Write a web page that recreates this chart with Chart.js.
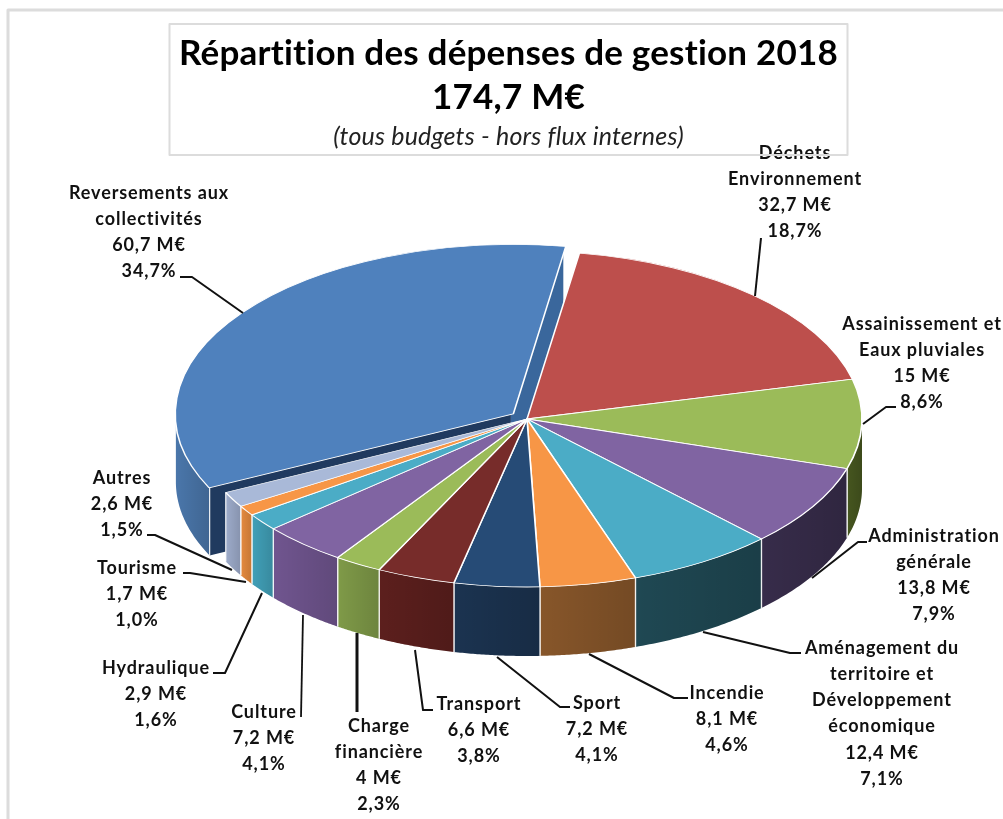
<!DOCTYPE html>
<html lang="fr"><head><meta charset="utf-8">
<style>html,body{margin:0;padding:0;background:#fff}canvas{display:block}</style>
<script src="https://cdn.jsdelivr.net/npm/chart.js@4/dist/chart.umd.min.js"></script>
</head><body><canvas id="c" width="1003" height="819"></canvas>
<script>
const titleLines = ['Répartition des dépenses de gestion 2018', '174,7 M€'];
const subtitleText = '(tous budgets - hors flux internes)';
const categories = ['Déchets Environnement','Assainissement et Eaux pluviales','Administration générale','Aménagement du territoire et Développement économique','Incendie','Sport','Transport','Charge financière','Culture','Hydraulique','Tourisme','Autres','Reversements aux collectivités'];
const categoryLines = [['Déchets','Environnement'],['Assainissement et','Eaux pluviales'],['Administration','générale'],['Aménagement du','territoire et','Développement','économique'],['Incendie'],['Sport'],['Transport'],['Charge','financière'],['Culture'],['Hydraulique'],['Tourisme'],['Autres'],['Reversements aux','collectivités']];
const valuesMEuro = [32.7,15,13.8,12.4,8.1,7.2,6.6,4,7.2,2.9,1.7,2.6,60.7];
const percentLabels = ['18,7%','8,6%','7,9%','7,1%','4,6%','4,1%','3,8%','2,3%','4,1%','1,6%','1,0%','1,5%','34,7%'];
const topColors = ['#bd4f4c','#9bbb59','#8064a2','#4bacc6','#f79646','#264b76','#772c2a','#9bbb59','#8064a2','#4bacc6','#f79646','#a9b9d8','#4f81bd'];
const wallColors = ['#7a3230','#46561f','#372c4a','#1f4853','#87562a','#1b3350','#5c1f1d','#7f9a48','#70558f','#41a0b8','#e58a3e','#9dabca','#4a76aa'];
const offsets = [0,0,0,0,0,0,0,0,0,0,0,0,68];

// Layout of annotations (screen pixels)
const labelPos = [[795,153],[922,324],[934,536],[882,648],[727,693],[597,703],[479,704],[379,726],[264,712],[156,668],[137,568],[122,478],[149,193]];
const leaders = [
 [[755,296],[761,238]],
 [[863,424],[886,407],[896,407]],
 [[812,578],[858,542],[867,542]],
 [[703,632],[790,653],[801,653]],
 [[589,654],[674,698],[688,698]],
 [[497,657],[560,707],[570,707]],
 [[415,650],[423,710],[433,710]],
 [[357,633],[357,712]],
 [[303,615],[301,717]],
 [[262,593],[225,673],[213,673]],
 [[246,582],[190,573],[183,573]],
 [[232,570],[155,535],[147,535]],
 [[180,277],[192,277],[243,313]]
];
const leaderWidths = [2,2,2,2,2,2,2,3,1.8,2,2,2,2];
const CX=527, CY=419, RX=335, K=168/335, DEPTH=69, LINE=26.2;

const pie3d = {
  id:'pie3d',
  beforeDraw(chart){ chart.ctx.letterSpacing='0.2px'; },
  beforeDatasetsDraw(chart){
    const ctx=chart.ctx, arcs=chart.getDatasetMeta(0).data;
    const offOf=(el,i)=>{const o=offsets[i]/4, c=el.endAngle-el.startAngle, f=1-Math.sin(Math.min(Math.PI,c)), m=o+o*f, h=(el.startAngle+el.endAngle)/2;return [Math.cos(h)*m,Math.sin(h)*m*K];};
    const quad=(pts,col)=>{ctx.beginPath();pts.forEach((p,j)=>j?ctx.lineTo(p[0],p[1]):ctx.moveTo(p[0],p[1]));ctx.closePath();ctx.fillStyle=col;ctx.fill();};
    const vline=(p)=>{ctx.beginPath();ctx.moveTo(p[0],p[1]);ctx.lineTo(p[0],p[1]+DEPTH);ctx.strokeStyle='rgba(255,255,255,.85)';ctx.lineWidth=1.3;ctx.stroke();};
    // exploded slice: cut faces first
    arcs.forEach((el,i)=>{
      if(!offsets[i])return;
      const [ox,oy]=offOf(el,i), ax=CX+ox, ay=CY+oy;
      const P=a=>[ax+RX*Math.cos(a),ay+RX*K*Math.sin(a)];
      const s=P(el.startAngle), e=P(el.endAngle);
      quad([[ax,ay],e,[e[0],e[1]+DEPTH],[ax,ay+DEPTH]],'#3a679c');
      quad([[ax,ay],s,[s[0],s[1]+DEPTH],[ax,ay+DEPTH]],'#203a5f');
    });
    // outer walls
    arcs.forEach((el,i)=>{
      const lo=Math.max(el.startAngle,0), hi=Math.min(el.endAngle,Math.PI);
      if(hi<=lo)return;
      const [ox,oy]=offsets[i]?offOf(el,i):[0,0];
      const P=a=>[CX+ox+RX*Math.cos(a),CY+oy+RX*K*Math.sin(a)];
      const pts=[],N=40;
      for(let j=0;j<=N;j++)pts.push(P(lo+(hi-lo)*j/N));
      for(let j=N;j>=0;j--){const p=P(lo+(hi-lo)*j/N);pts.push([p[0],p[1]+DEPTH]);}
      quad(pts,wallColors[i]);
      const x0=Math.min(P(lo)[0],P(hi)[0]), x1=Math.max(P(lo)[0],P(hi)[0]);
      const g=ctx.createLinearGradient(x0,0,x1,0);
      g.addColorStop(0,'rgba(0,0,0,0)');g.addColorStop(1,'rgba(0,0,0,.14)');
      quad(pts,g);
      if(el.startAngle>0)vline(P(lo));
      if(el.endAngle<Math.PI)vline(P(hi));
    });
    const a0=arcs[0];
    ctx.save();
    ctx.translate(CX,CY);ctx.scale(1,K);ctx.translate(-a0.x,-a0.y);
  },
  afterDatasetsDraw(chart){ chart.ctx.restore(); },
  afterDraw(chart){
    const ctx=chart.ctx;
    // leaders
    ctx.strokeStyle='#111';ctx.lineJoin='round';
    leaders.forEach((l,i)=>{ctx.lineWidth=leaderWidths[i];ctx.beginPath();l.forEach((p,j)=>j?ctx.lineTo(p[0],p[1]):ctx.moveTo(p[0],p[1]));ctx.stroke();});
    // labels
    ctx.letterSpacing='0.9px';
    ctx.fillStyle='#111';ctx.font='bold 18px Lato';ctx.textAlign='center';ctx.textBaseline='middle';
    categories.forEach((c,i)=>{
      const lines=[...categoryLines[i], String(valuesMEuro[i]).replace('.',',')+' M€', percentLabels[i]];
      lines.forEach((t,j)=>ctx.fillText(t,labelPos[i][0],labelPos[i][1]+j*LINE));
    });
    ctx.letterSpacing='0px';
    // frame and title box
    ctx.strokeStyle='#dcdcdc';ctx.lineWidth=2;ctx.strokeRect(169.5,24,678,131);
    ctx.lineWidth=3;ctx.beginPath();ctx.moveTo(8,819);ctx.lineTo(8,10);ctx.lineTo(1003,10);ctx.stroke();
  }
};

new Chart(document.getElementById('c'),{
  type:'pie',
  data:{labels:categories,datasets:[{data:valuesMEuro,backgroundColor:topColors,borderColor:'#fff',borderWidth:1.6,offset:offsets,clip:false}]},
  plugins:[pie3d],
  options:{
    responsive:false,animation:false,rotation:9,radius:RX,
    layout:{padding:{left:14,right:0,top:0,bottom:0}},
    events:[],
    plugins:{
      legend:{display:false},tooltip:{enabled:false},
      title:{display:true,text:titleLines,color:'#000',font:{family:'Lato',size:35,weight:'bold',lineHeight:44/35},padding:{top:32,bottom:0}},
      subtitle:{display:true,text:subtitleText,color:'#222',font:{family:'Lato',size:25,style:'italic',lineHeight:1.2},padding:{top:2,bottom:0}}
    }
  }
});
</script></body></html>
